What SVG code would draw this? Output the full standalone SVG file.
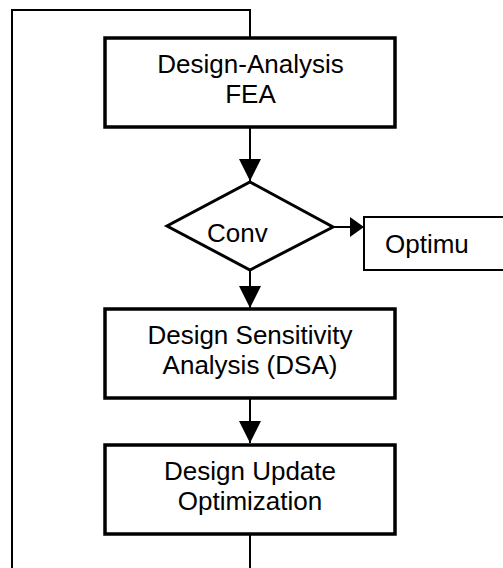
<svg xmlns="http://www.w3.org/2000/svg" width="503" height="568" viewBox="0 0 503 568">
  <style>
    .box { fill: #ffffff; stroke: #000000; stroke-width: 3.5; }
    .thin { fill: #ffffff; stroke: #000000; stroke-width: 2; }
    .dia { fill: #ffffff; stroke: #000000; stroke-width: 3; stroke-linejoin: miter; }
    .conn { fill: none; stroke: #000000; stroke-width: 2; }
    .lbl { font-family: "Liberation Sans", Arial, sans-serif; font-size: 26px; fill: #000000; }
    .c { text-anchor: middle; }
  </style>
  <defs>
    <marker id="ahDown" markerUnits="userSpaceOnUse" markerWidth="22" markerHeight="22" viewBox="0 0 22 22" refX="22" refY="11" orient="auto">
      <path d="M0,0 L22,11 L0,22 Z" fill="#000000"/>
    </marker>
    <marker id="ahRight" markerUnits="userSpaceOnUse" markerWidth="14" markerHeight="20" viewBox="0 0 14 20" refX="14" refY="10" orient="auto">
      <path d="M0,0 L14,10 L0,20 Z" fill="#000000"/>
    </marker>
  </defs>

  <g id="connectors">
    <path class="conn" d="M250,534 V600 H12 V10 H250 V38"/>
    <path class="conn" d="M250,127 V181" marker-end="url(#ahDown)"/>
    <path class="conn" d="M250,270 V308" marker-end="url(#ahDown)"/>
    <path class="conn" d="M250,398 V443" marker-end="url(#ahDown)"/>
    <path class="conn" d="M333,227 H364" marker-end="url(#ahRight)"/>
  </g>

  <g id="node-fea">
    <rect class="box" x="105" y="38" width="290" height="89"/>
    <text class="lbl c" x="250.5" y="73">Design-Analysis</text>
    <text class="lbl c" x="250.5" y="103">FEA</text>
  </g>

  <g id="node-conv">
    <polygon class="dia" points="250,182 333,227 250,270 167,226"/>
    <text class="lbl" x="207" y="242">Conv</text>
  </g>

  <g id="node-optimu">
    <rect class="thin" x="364" y="217" width="160" height="53"/>
    <text class="lbl" x="385" y="253">Optimu</text>
  </g>

  <g id="node-dsa">
    <rect class="box" x="105" y="309" width="290" height="89"/>
    <text class="lbl c" x="250" y="344">Design Sensitivity</text>
    <text class="lbl c" x="250" y="374">Analysis (DSA)</text>
  </g>

  <g id="node-update">
    <rect class="box" x="105" y="445" width="290" height="89"/>
    <text class="lbl c" x="250" y="480">Design Update</text>
    <text class="lbl c" x="250" y="510">Optimization</text>
  </g>
</svg>
